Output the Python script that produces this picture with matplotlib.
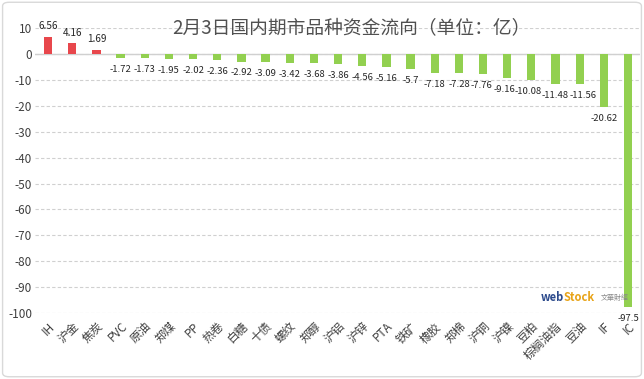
import matplotlib
matplotlib.use('Agg')
import matplotlib.pyplot as plt
from matplotlib.patches import FancyBboxPatch
import numpy as np

plt.rcParams['font.family'] = ['Noto Sans CJK SC', 'DejaVu Sans']
plt.rcParams['axes.unicode_minus'] = False

names = ['IH', '沪金', '焦炭', 'PVC', '原油', '郑煤', 'PP', '热卷', '白糖', '十债',
         '螺纹', '郑醇', '沪铝', '沪锌', 'PTA', '铁矿', '橡胶', '郑棉', '沪铜', '沪镍',
         '豆粕', '棕榈油指', '豆油', 'IF', 'IC']
flows = [6.56, 4.16, 1.69, -1.72, -1.73, -1.95, -2.02, -2.36, -2.92, -3.09,
         -3.42, -3.68, -3.86, -4.56, -5.16, -5.7, -7.18, -7.28, -7.76, -9.16,
         -10.08, -11.48, -11.56, -20.62, -97.5]

x = np.arange(len(names))
colors = ['#E8474C' if v > 0 else '#92D050' for v in flows]

# small sideways nudges (points) so crowded value labels don't collide
nudge = {'沪铜': -1.2, '沪镍': -2.2, '豆粕': -2.6, '豆油': 2.6}

fig = plt.figure(figsize=(6.44, 3.79), dpi=100)
ax = fig.add_axes([0.054, 0.174, 0.94, 0.752])

ax.bar(x, flows, width=0.34, color=colors, zorder=3)
ax.set_xlim(-0.55, 24.5)
ax.set_ylim(-100, 10)
ax.set_yticks(np.arange(-100, 11, 10))
ax.yaxis.grid(True, linestyle=(0, (3, 2)), color='#D0D0D0', linewidth=0.8, zorder=0)
ax.axhline(0, color='#D0D0D0', linewidth=1, zorder=2)
for s in ax.spines.values():
    s.set_visible(False)
ax.tick_params(axis='both', length=0, labelsize=8.5, colors='#404040')
ax.tick_params(axis='y', pad=2)
ax.tick_params(axis='x', pad=5)
ax.set_xticks(x)
ax.set_xticklabels(names, rotation=45, ha='right', rotation_mode='anchor', fontsize=8.5)

for xi, name, v in zip(x, names, flows):
    txt = f'{v:g}'
    if v > 0:
        ax.annotate(txt, (xi, v), xytext=(0, 4), textcoords='offset points',
                    ha='center', va='bottom', fontsize=7.2, color='#262626')
    else:
        ax.annotate(txt, (xi, v), xytext=(nudge.get(name, 0), -5), textcoords='offset points',
                    ha='center', va='top', fontsize=6.8, color='#262626',
                    annotation_clip=False)

fig.text(0.545, 0.928, '2月3日国内期市品种资金流向（单位：亿）', ha='center', va='center',
         fontsize=13.5, color='#505050')

# watermark
fig.text(0.875, 0.215, 'web', fontsize=8, color='#2C4A8C', fontweight='bold',
         ha='right', va='center', style='italic')
fig.text(0.875, 0.215, 'Stock', fontsize=8, color='#E8A317', fontweight='bold',
         ha='left', va='center', style='italic')
fig.text(0.955, 0.215, '文華財經', fontsize=5, color='#888888', ha='center', va='center')

fig.patches.append(FancyBboxPatch((0.004, 0.006), 0.992, 0.988, boxstyle='round,pad=0,rounding_size=0.01',
                                  transform=fig.transFigure, fill=False, edgecolor='#D9D9D9',
                                  linewidth=1))

fig.savefig('out.png', dpi=100)
